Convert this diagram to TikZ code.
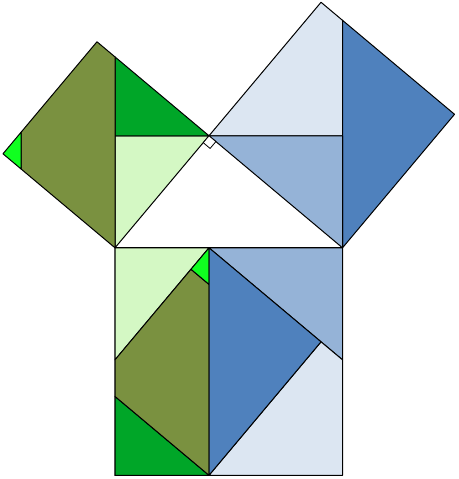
\documentclass[tikz,border=0pt]{standalone}
\usetikzlibrary{calc}
\definecolor{lgreen}{HTML}{D4F8C4}
\definecolor{dgreen}{HTML}{00A628}
\definecolor{olive}{HTML}{7A9140}
\definecolor{bgreen}{HTML}{10FF20}
\definecolor{lblue}{HTML}{DCE6F2}
\definecolor{mblue}{HTML}{95B3D7}
\definecolor{dblue}{HTML}{4F81BD}
\tikzset{piece/.style={draw=black,line width=1pt,line join=round}}
\begin{document}
\begin{tikzpicture}[x=1pt,y=-1pt]
\useasboundingbox (0,0) rectangle (458,479);
\pgfmathsetmacro{\pp}{94}
\pgfmathsetmacro{\cc}{227.5}
\pgfmathsetmacro{\qq}{\cc-\pp}
\pgfmathsetmacro{\hh}{sqrt(\pp*\qq)}
\pgfmathsetmacro{\eone}{\pp*(\cc/\hh)}
\pgfmathsetmacro{\gtwo}{\pp*(\pp/\hh)}
\begin{scope}[shift={(115,247.8)}]
% triangle and squares
\coordinate (A) at (0,0);
\coordinate (B) at (\cc,0);
\coordinate (C) at (\pp,-\hh);
\coordinate (P) at ({\pp-\hh},{-\hh-\pp});
\coordinate (Q) at (-\hh,-\pp);
\coordinate (E1) at (0,-\eone);
\coordinate (F1) at (0,-\hh);
\coordinate (G1) at (-\pp,{\hh-\cc});
\coordinate (G2) at (-\pp,-\gtwo);
\coordinate (S) at ({\pp+\hh},{-\hh-\qq});
\coordinate (R) at ({\cc+\hh},-\qq);
\coordinate (E2) at (\cc,-\cc);
\coordinate (F2) at (\cc,-\hh);
% bottom square points
\coordinate (D0) at (\pp,0);
\coordinate (BL) at (0,\cc);
\coordinate (BR) at (\cc,\cc);
\coordinate (Dc) at (\pp,\cc);
\coordinate (H1) at (0,\hh);
\coordinate (H2) at (0,{\cc-\gtwo});
\coordinate (H3) at (\pp,{\cc-\eone});
\coordinate (PT) at ({2*\pp-\hh},{\cc-\hh-\pp});
\coordinate (K) at (\cc,\hh);
\coordinate (M) at ({\pp+\hh},{\cc-\qq});
% bottom square outline (grey)
\draw[gray,line width=1.8pt] (A) rectangle (BR);
% left square pieces
\filldraw[piece,fill=lgreen] (C) -- (F1) -- (A) -- cycle;
\filldraw[piece,fill=dgreen] (E1) -- (F1) -- (C) -- cycle;
\filldraw[piece,fill=olive] (A) -- (E1) -- (P) -- (G1) -- (G2) -- cycle;
\filldraw[piece,fill=bgreen] (Q) -- (G1) -- (G2) -- cycle;
% right square pieces
\filldraw[piece,fill=lblue] (C) -- (S) -- (E2) -- (F2) -- cycle;
\filldraw[piece,fill=dblue] (E2) -- (R) -- (B) -- cycle;
\filldraw[piece,fill=mblue] (C) -- (F2) -- (B) -- cycle;
% bottom square pieces
\filldraw[piece,fill=lgreen] (A) -- (D0) -- (H1) -- cycle;
\filldraw[piece,fill=dgreen] (H2) -- (BL) -- (Dc) -- cycle;
\filldraw[piece,fill=olive] (Dc) -- (H3) -- (PT) -- (H1) -- (H2) -- cycle;
\filldraw[piece,fill=bgreen] (D0) -- (H3) -- (PT) -- cycle;
\filldraw[piece,fill=mblue] (D0) -- (B) -- (K) -- cycle;
\filldraw[piece,fill=lblue] (Dc) -- (M) -- (K) -- (BR) -- cycle;
\filldraw[piece,fill=dblue] (D0) -- (Dc) -- (M) -- cycle;
% triangle hypotenuse
\draw[piece] (A) -- (B);
% right angle mark
\coordinate (Ca) at ($(C)!9pt!(A)$);
\coordinate (Cb) at ($(C)!9pt!(B)$);
\coordinate (Cab) at ($(Ca)+(Cb)-(C)$);
\filldraw[piece,line width=0.8pt,fill=white] (C) -- (Ca) -- (Cab) -- (Cb) -- cycle;
\end{scope}
\end{tikzpicture}
\end{document}
